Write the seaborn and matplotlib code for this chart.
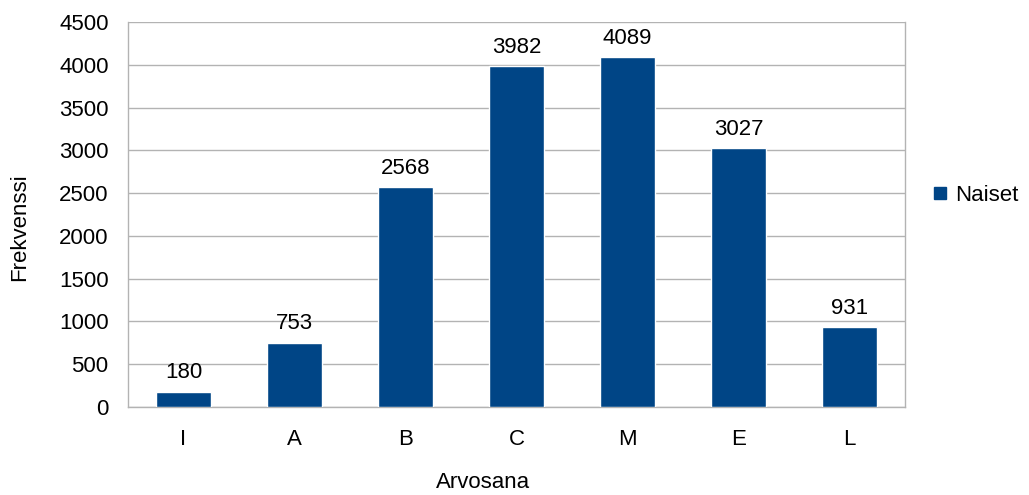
import pandas as pd
import matplotlib
matplotlib.use("Agg")
import matplotlib.pyplot as plt
import seaborn as sns
from matplotlib.lines import Line2D

grades = ["I", "A", "B", "C", "M", "E", "L"]
counts = [180, 753, 2568, 3982, 4089, 3027, 931]
series_name = "Naiset"

df = pd.DataFrame({"Arvosana": grades, "Frekvenssi": counts})

sns.set_style("white")
plt.rcParams["font.family"] = ["Liberation Sans", "DejaVu Sans"]
plt.rcParams["text.color"] = "black"
plt.rcParams["axes.labelcolor"] = "black"

fig = plt.figure(figsize=(10.29, 4.95), dpi=100)
ax = fig.add_axes([128 / 1029, 1 - 407 / 495, (905 - 128) / 1029, (407 - 22) / 495])

bar_color = "#004586"
grid_color = "#b3b3b3"

sns.barplot(data=df, x="Arvosana", y="Frekvenssi", color=bar_color, width=0.5,
            saturation=1, ax=ax, zorder=3)

for p, v in zip(ax.patches, counts):
    ax.annotate(str(v), (p.get_x() + p.get_width() / 2, v), xytext=(0, 6),
                textcoords="offset points", ha="center", va="bottom",
                fontsize=16, color="black")

ax.set_ylim(0, 4500)
ax.set_yticks(range(0, 4501, 500))
ax.set_xlim(-0.5, len(grades) - 0.5)
ax.yaxis.grid(True, color=grid_color, linewidth=1, zorder=0)
ax.set_axisbelow(True)

# x ticks at category boundaries
ax.set_xticks([i - 0.5 for i in range(len(grades) + 1)], minor=False)
ax.set_xticklabels([])
ax.set_xticks(range(len(grades)), minor=True)
ax.set_xticklabels(grades, minor=True)
ax.tick_params(axis="x", which="major", length=10, width=1, color=grid_color, direction="out")
ax.tick_params(axis="x", which="minor", length=0, pad=16, labelsize=16, labelcolor="black")
ax.tick_params(axis="y", length=10, width=1, color=grid_color, direction="out", labelsize=16,
               pad=4, labelcolor="black")

for side in ["left", "right", "bottom"]:
    ax.spines[side].set_visible(True)
    ax.spines[side].set_color(grid_color)
    ax.spines[side].set_linewidth(1)
ax.spines["top"].set_visible(False)

ax.set_xlabel("Arvosana", fontsize=16, color="black")
ax.set_ylabel("Frekvenssi", fontsize=16, color="black")
ax.xaxis.label.set_va("center")
ax.yaxis.label.set_va("center")
ax.xaxis.set_label_coords(0.457, -0.197)
ax.yaxis.set_label_coords(-0.139, 0.4675)

handle = Line2D([0], [0], marker="s", linestyle="none", markersize=8,
                markerfacecolor=bar_color, markeredgecolor=bar_color)
fig.legend([handle], [series_name], loc="center left", bbox_to_anchor=(0.894, 0.606),
           borderaxespad=0, frameon=False, fontsize=16, handletextpad=0.2, handlelength=1,
           labelcolor="black")

fig.savefig("out.png", dpi=100)
